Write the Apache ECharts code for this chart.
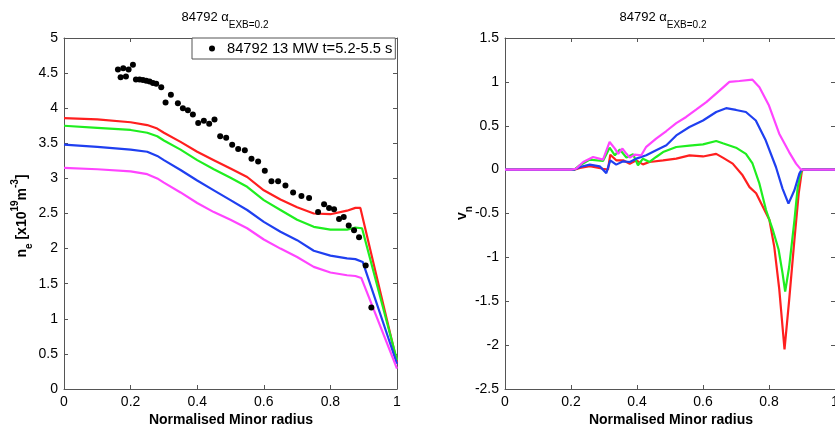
<!DOCTYPE html>
<html>
<head>
<meta charset="utf-8">
<script src="https://cdn.jsdelivr.net/npm/echarts@6/dist/echarts.min.js"></script>
<style>
html,body{margin:0;padding:0;background:#fff;}
#chart{width:835px;height:432px;}
</style>
</head>
<body>
<div id="chart"></div>
<script>
// ---------- Left panel: density profiles ----------
const xTicks = [0, 0.2, 0.4, 0.6, 0.8, 1];
const neYTicks = [0, 0.5, 1, 1.5, 2, 2.5, 3, 3.5, 4, 4.5, 5];
const vnYTicks = [-2.5, -2, -1.5, -1, -0.5, 0, 0.5, 1, 1.5];

const neRedX = [0, 0.1, 0.2, 0.25, 0.28, 0.3, 0.35, 0.4, 0.45, 0.5, 0.55, 0.6, 0.65, 0.7, 0.75, 0.8, 0.85, 0.875, 0.89, 1.0];
const neRedY = [3.86, 3.84, 3.80, 3.76, 3.71, 3.65, 3.52, 3.38, 3.26, 3.14, 3.02, 2.83, 2.70, 2.59, 2.50, 2.49, 2.54, 2.58, 2.58, 0.38];
const neGreenX = [0, 0.1, 0.2, 0.25, 0.28, 0.3, 0.35, 0.4, 0.45, 0.5, 0.55, 0.6, 0.65, 0.7, 0.75, 0.8, 0.85, 0.875, 0.895, 1.0];
const neGreenY = [3.75, 3.72, 3.69, 3.65, 3.60, 3.54, 3.41, 3.26, 3.13, 3.01, 2.88, 2.69, 2.55, 2.41, 2.31, 2.27, 2.27, 2.30, 2.29, 0.41];
const neBlueX = [0, 0.1, 0.2, 0.25, 0.28, 0.3, 0.35, 0.4, 0.45, 0.5, 0.55, 0.6, 0.65, 0.7, 0.75, 0.8, 0.85, 0.875, 0.897, 1.0];
const neBlueY = [3.48, 3.45, 3.41, 3.38, 3.32, 3.26, 3.12, 2.97, 2.83, 2.69, 2.55, 2.38, 2.24, 2.12, 1.97, 1.90, 1.86, 1.85, 1.81, 0.36];
const neMagentaX = [0, 0.1, 0.2, 0.25, 0.28, 0.3, 0.35, 0.4, 0.45, 0.5, 0.55, 0.6, 0.65, 0.7, 0.75, 0.8, 0.85, 0.875, 0.893, 1.0];
const neMagentaY = [3.15, 3.13, 3.10, 3.06, 3.00, 2.94, 2.80, 2.65, 2.52, 2.41, 2.29, 2.13, 2.00, 1.88, 1.74, 1.66, 1.62, 1.61, 1.58, 0.29];

const expX = [0.162, 0.170, 0.178, 0.186, 0.194, 0.207, 0.216, 0.227, 0.237, 0.247, 0.257, 0.267, 0.277, 0.292, 0.305, 0.321, 0.342, 0.357, 0.372, 0.387, 0.403, 0.420, 0.436, 0.452, 0.469, 0.487, 0.505, 0.523, 0.543, 0.563, 0.583, 0.603, 0.623, 0.643, 0.665, 0.688, 0.713, 0.736, 0.763, 0.781, 0.796, 0.811, 0.826, 0.840, 0.855, 0.871, 0.886, 0.906, 0.923];
const expY = [4.55, 4.44, 4.57, 4.45, 4.55, 4.62, 4.41, 4.41, 4.40, 4.39, 4.38, 4.36, 4.35, 4.30, 4.08, 4.19, 4.07, 4.00, 3.97, 3.91, 3.79, 3.82, 3.78, 3.84, 3.60, 3.58, 3.48, 3.42, 3.40, 3.28, 3.24, 3.11, 2.96, 2.96, 2.90, 2.80, 2.75, 2.72, 2.52, 2.63, 2.58, 2.56, 2.42, 2.45, 2.33, 2.26, 2.16, 1.76, 1.16];
const expLabel = '84792 13 MW t=5.2-5.5 s';

// ---------- Right panel: v_n ----------
const vnRedX = [0, 0.21, 0.227, 0.257, 0.297, 0.312, 0.319, 0.337, 0.358, 0.378, 0.398, 0.418, 0.438, 0.479, 0.519, 0.559, 0.6, 0.64, 0.66, 0.69, 0.72, 0.741, 0.761, 0.781, 0.801, 0.816, 0.831, 0.847, 0.861, 0.877, 0.89, 0.899, 0.902, 1.0];
const vnRedY = [0, 0, 0.02, 0.04, 0.01, 0.0, 0.17, 0.106, 0.106, 0.068, 0.106, 0.06, 0.087, 0.106, 0.125, 0.163, 0.15, 0.18, 0.137, 0.068, -0.065, -0.20, -0.27, -0.42, -0.57, -0.88, -1.36, -2.05, -1.49, -0.80, -0.27, -0.03, 0, 0];
const vnGreenX = [0, 0.21, 0.227, 0.257, 0.297, 0.317, 0.333, 0.348, 0.368, 0.388, 0.403, 0.418, 0.438, 0.458, 0.479, 0.519, 0.559, 0.6, 0.64, 0.66, 0.70, 0.73, 0.75, 0.771, 0.791, 0.811, 0.829, 0.841, 0.849, 0.861, 0.877, 0.887, 0.897, 0.902, 1.0];
const vnGreenY = [0, 0, 0.05, 0.114, 0.098, 0.25, 0.163, 0.23, 0.137, 0.175, 0.05, 0.125, 0.087, 0.144, 0.20, 0.258, 0.273, 0.288, 0.326, 0.30, 0.25, 0.18, 0.07, -0.16, -0.46, -0.68, -0.91, -1.18, -1.39, -1.11, -0.58, -0.20, -0.03, 0, 0];
const vnBlueX = [0, 0.21, 0.227, 0.257, 0.287, 0.307, 0.319, 0.337, 0.358, 0.378, 0.398, 0.428, 0.458, 0.489, 0.519, 0.559, 0.6, 0.64, 0.67, 0.70, 0.73, 0.76, 0.79, 0.821, 0.841, 0.859, 0.877, 0.892, 0.899, 1.0];
const vnBlueY = [0, 0, 0.03, 0.057, 0.038, -0.04, 0.106, 0.057, 0.095, 0.087, 0.125, 0.163, 0.22, 0.277, 0.39, 0.486, 0.56, 0.657, 0.70, 0.68, 0.657, 0.56, 0.334, 0.03, -0.216, -0.387, -0.235, -0.045, 0, 0];
const vnMagentaX = [0, 0.2, 0.215, 0.237, 0.267, 0.297, 0.317, 0.333, 0.343, 0.356, 0.368, 0.378, 0.393, 0.413, 0.428, 0.458, 0.489, 0.519, 0.549, 0.579, 0.61, 0.65, 0.68, 0.71, 0.75, 0.771, 0.80, 0.831, 0.861, 0.882, 0.897, 1.0];
const vnMagentaY = [0, 0, 0.01, 0.087, 0.144, 0.114, 0.315, 0.24, 0.18, 0.24, 0.18, 0.137, 0.17, 0.163, 0.26, 0.353, 0.44, 0.53, 0.60, 0.683, 0.77, 0.90, 1.0, 1.01, 1.025, 0.94, 0.73, 0.41, 0.20, 0.068, 0, 0];

const COLORS = {red: '#ff1f1f', green: '#1fee1f', blue: '#1f3ff0', magenta: '#ff44ff'};
const AXIS_COLOR = '#555';

function pairs(xs, ys) { return xs.map((x, i) => [x, ys[i]]); }

function mainX(gridIndex) {
  return {
    type: 'value', gridIndex, min: 0, max: 1, interval: 0.2, position: 'bottom',
    axisLine: {show: true, onZero: false, lineStyle: {color: AXIS_COLOR, width: 1}},
    axisTick: {show: true, inside: true, length: 4, lineStyle: {color: AXIS_COLOR}},
    axisLabel: {color: '#000', fontSize: 14, fontFamily: 'Liberation Sans, Arial, sans-serif', margin: 6,
      formatter: v => String(Math.round(v * 10) / 10)},
    splitLine: {show: false}
  };
}
function mirrorX(gridIndex) {
  return {
    type: 'value', gridIndex, min: 0, max: 1, interval: 0.2, position: 'top',
    axisLine: {show: true, onZero: false, lineStyle: {color: AXIS_COLOR, width: 1}},
    axisTick: {show: true, inside: true, length: 4, lineStyle: {color: AXIS_COLOR}},
    axisLabel: {show: false}, splitLine: {show: false}
  };
}
function mainY(gridIndex, min, max, ticks) {
  return {
    type: 'value', gridIndex, min, max, interval: 0.5, position: 'left',
    axisLine: {show: true, onZero: false, lineStyle: {color: AXIS_COLOR, width: 1}},
    axisTick: {show: true, inside: true, length: 4, lineStyle: {color: AXIS_COLOR}},
    axisLabel: {color: '#000', fontSize: 14, fontFamily: 'Liberation Sans, Arial, sans-serif', margin: 6,
      formatter: v => { const t = ticks.find(tk => Math.abs(tk - v) < 1e-9); return String(t === undefined ? v : t); }},
    splitLine: {show: false}
  };
}
function mirrorY(gridIndex, min, max) {
  return {
    type: 'value', gridIndex, min, max, interval: 0.5, position: 'right',
    axisLine: {show: true, onZero: false, lineStyle: {color: AXIS_COLOR, width: 1}},
    axisTick: {show: true, inside: true, length: 4, lineStyle: {color: AXIS_COLOR}},
    axisLabel: {show: false}, splitLine: {show: false}
  };
}
function lineSeries(name, xIdx, yIdx, xs, ys, color) {
  return {
    name, type: 'line', xAxisIndex: xIdx, yAxisIndex: yIdx, data: pairs(xs, ys),
    showSymbol: false, symbol: 'none', smooth: false,
    lineStyle: {color, width: 2.2}, itemStyle: {color}, z: 3
  };
}

const FONT = 'Liberation Sans, Arial, sans-serif';
const titleRich = {
  a: {fontSize: 13, fontFamily: FONT, color: '#000', lineHeight: 26, verticalAlign: 'middle'},
  s: {fontSize: 10, fontFamily: FONT, color: '#000', lineHeight: 10, verticalAlign: 'bottom'}
};
const labRich = {
  b: {fontSize: 14, fontWeight: 'bold', fontFamily: FONT, color: '#000', lineHeight: 24, verticalAlign: 'middle'},
  sup: {fontSize: 10, fontWeight: 'bold', fontFamily: FONT, color: '#000', lineHeight: 10, verticalAlign: 'top'},
  sub: {fontSize: 10, fontWeight: 'bold', fontFamily: FONT, color: '#000', lineHeight: 10, verticalAlign: 'bottom'}
};

const chart = echarts.init(document.getElementById('chart'), null, {renderer: 'canvas'});
chart.setOption({
  animation: false,
  backgroundColor: '#fff',
  grid: [
    {left: 64, top: 38, width: 333, height: 351, show: false, containLabel: false, outerBoundsMode: 'none'},
    {left: 505, top: 38, width: 330, height: 351, show: false, containLabel: false, outerBoundsMode: 'none'}
  ],
  xAxis: [mainX(0), mainX(1), mirrorX(0), mirrorX(1)],
  yAxis: [mainY(0, 0, 5, neYTicks), mainY(1, -2.5, 1.5, vnYTicks), mirrorY(0, 0, 5), mirrorY(1, -2.5, 1.5)],
  legend: {
    show: true, data: [expLabel], left: 192, top: 38, orient: 'horizontal',
    backgroundColor: '#fff', borderColor: AXIS_COLOR, borderWidth: 1, borderRadius: 0,
    padding: [2, 3, 2, 17], itemWidth: 6, itemHeight: 6, icon: 'circle',
    textStyle: {fontSize: 14.7, fontFamily: FONT, color: '#000', lineHeight: 17, padding: [0, 0, 0, 7]},
    selectedMode: false
  },
  series: [
    lineSeries('ne_r', 0, 0, neRedX, neRedY, COLORS.red),
    lineSeries('ne_g', 0, 0, neGreenX, neGreenY, COLORS.green),
    lineSeries('ne_b', 0, 0, neBlueX, neBlueY, COLORS.blue),
    lineSeries('ne_m', 0, 0, neMagentaX, neMagentaY, COLORS.magenta),
    {name: expLabel, type: 'scatter', xAxisIndex: 0, yAxisIndex: 0, data: pairs(expX, expY),
      symbol: 'circle', symbolSize: 6, itemStyle: {color: '#000', opacity: 1}, z: 5},
    lineSeries('vn_r', 1, 1, vnRedX, vnRedY, COLORS.red),
    lineSeries('vn_g', 1, 1, vnGreenX, vnGreenY, COLORS.green),
    lineSeries('vn_b', 1, 1, vnBlueX, vnBlueY, COLORS.blue),
    lineSeries('vn_m', 1, 1, vnMagentaX, vnMagentaY, COLORS.magenta)
  ],
  graphic: [
    {type: 'text', x: 225, y: 17, style: {text: '{a|84792 α}{s|EXB=0.2}', rich: titleRich, align: 'center', verticalAlign: 'middle'}},
    {type: 'text', x: 663, y: 17, style: {text: '{a|84792 α}{s|EXB=0.2}', rich: titleRich, align: 'center', verticalAlign: 'middle'}},
    {type: 'text', x: 231, y: 420, style: {text: 'Normalised Minor radius', font: 'bold 14px ' + FONT, fill: '#000', align: 'center', verticalAlign: 'middle'}},
    {type: 'text', x: 671, y: 420, style: {text: 'Normalised Minor radius', font: 'bold 14px ' + FONT, fill: '#000', align: 'center', verticalAlign: 'middle'}},
    {type: 'text', x: 22, y: 216, rotation: Math.PI / 2,
      style: {text: '{b|n}{sub|e}{b| [x10}{sup|19}{b|m}{sup|-3}{b|]}', rich: labRich, align: 'center', verticalAlign: 'middle'}},
    {type: 'text', x: 462, y: 213, rotation: Math.PI / 2,
      style: {text: '{b|v}{sub|n}', rich: labRich, align: 'center', verticalAlign: 'middle'}}
  ]
});
</script>
</body>
</html>
